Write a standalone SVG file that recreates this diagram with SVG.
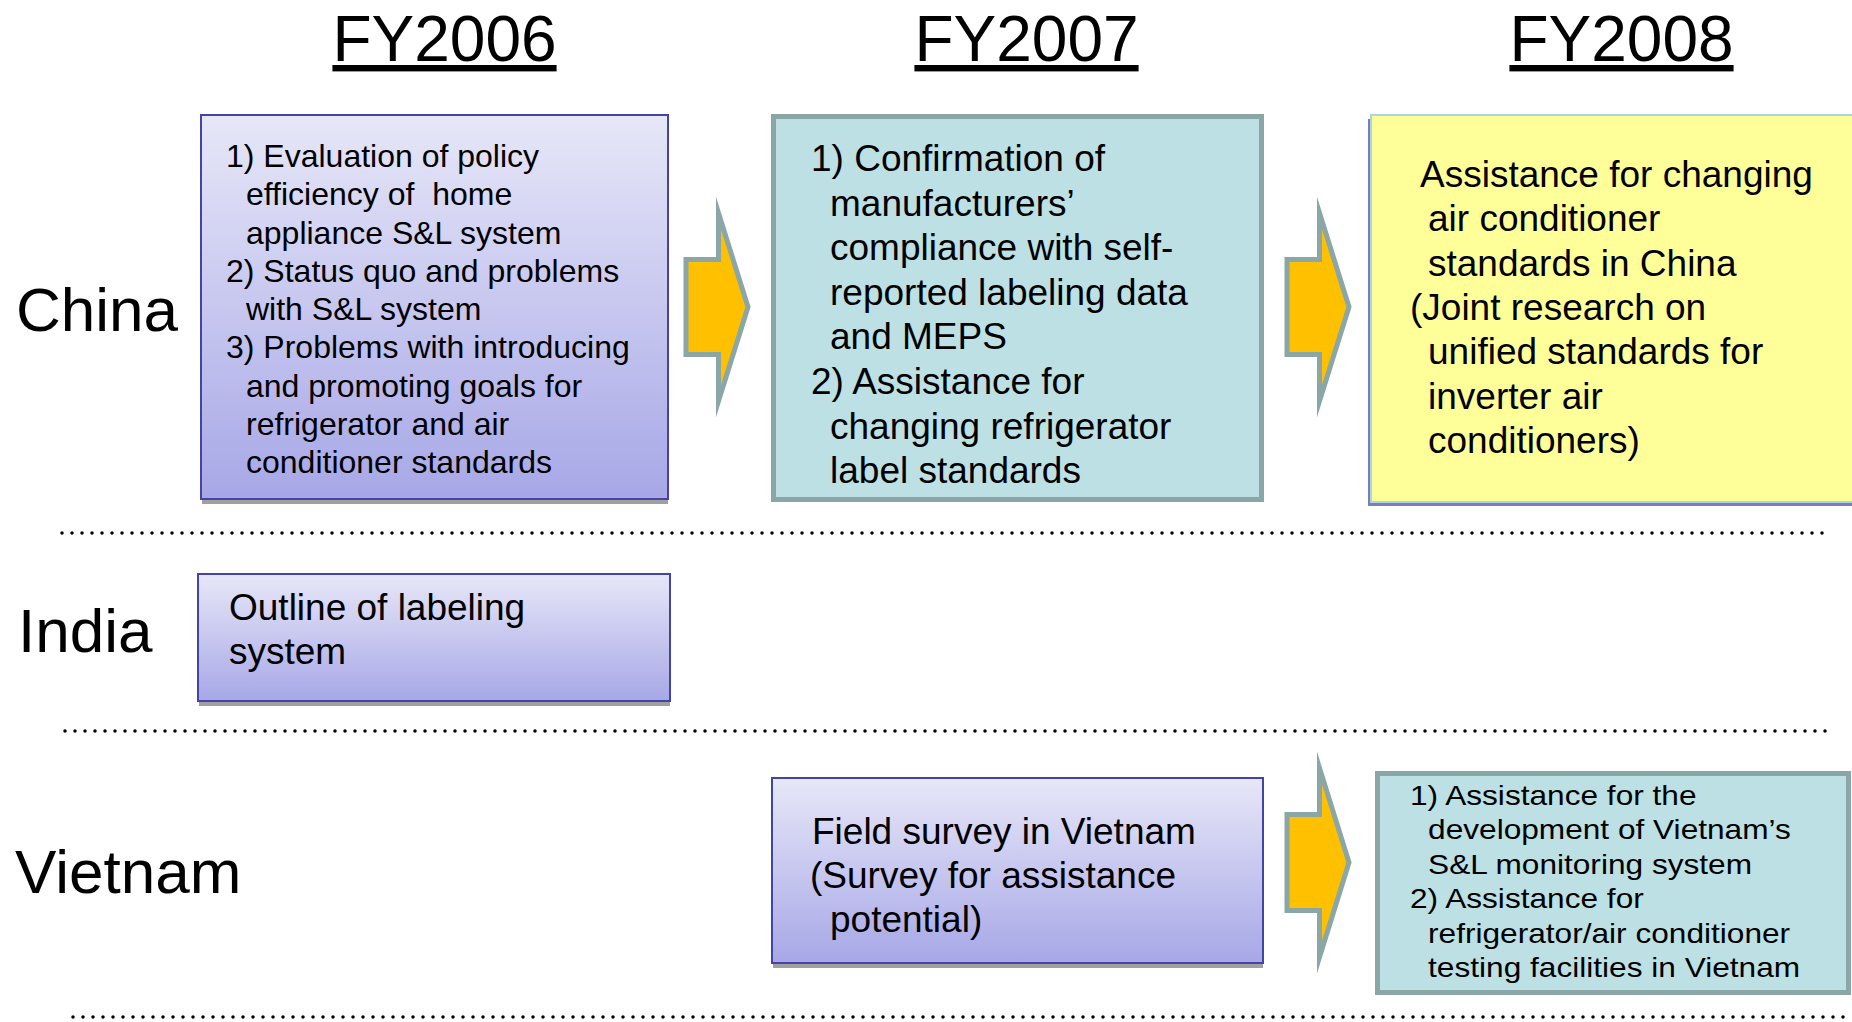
<svg xmlns="http://www.w3.org/2000/svg" width="1852" height="1022" viewBox="0 0 1852 1022">
<style>
  text { font-family: "Liberation Sans", Arial, sans-serif; fill: #000; }
  .title { font-size: 64px; text-anchor: middle; text-decoration: underline; }
  .country { font-size: 62px; }
  .t32 { font-size: 32px; }
  .t37 { font-size: 37px; }
  .t28 { font-size: 28px; }
  .purple { fill: url(#gPurple); stroke: #4444a6; stroke-width: 2; }
  .shadow { fill: #a0a0a0; }
  .teal { fill: #bce0e3; stroke: #8aa6a6; stroke-width: 5; }
  .yellow { fill: #ffff99; stroke: #a9d8dc; stroke-width: 2; }
  .yshadow { fill: #7b7bc4; }
  .arrow { fill: #ffc000; stroke: #8aa6a6; stroke-width: 5; stroke-linejoin: miter; stroke-miterlimit: 12; }
  .dots { stroke: #000; stroke-width: 3.5; stroke-linecap: round; stroke-dasharray: 0 10; fill: none; }
</style>
<defs>
  <linearGradient id="gPurple" x1="0" y1="0" x2="0" y2="1">
    <stop offset="0" stop-color="#e7e7f8"/>
    <stop offset="1" stop-color="#a7a7e7"/>
  </linearGradient>
</defs>
<rect x="0" y="0" width="1852" height="1022" fill="#ffffff"/>

<g id="titles">
  <text class="title" x="444.5" y="61">FY2006</text>
  <text class="title" x="1026.5" y="61">FY2007</text>
  <text class="title" x="1621.5" y="61">FY2008</text>
</g>

<g id="countries">
  <text class="country" x="16" y="331">China</text>
  <text class="country" x="18" y="652">India</text>
  <text class="country" x="15" y="893">Vietnam</text>
</g>

<g id="separators">
  <line class="dots" x1="62" y1="533" x2="1828" y2="533"/>
  <line class="dots" x1="65" y1="731" x2="1831" y2="731"/>
  <line class="dots" x1="73" y1="1017" x2="1852" y2="1017"/>
</g>

<g id="china2006">
  <rect class="shadow" x="202" y="499" width="466" height="5"/>
  <rect class="purple" x="201" y="115" width="467" height="384"/>
  <text class="t32" x="226" y="167">1) Evaluation of policy</text>
  <text class="t32" x="246" y="205.25" xml:space="preserve">efficiency of  home</text>
  <text class="t32" x="246" y="243.5">appliance S&amp;L system</text>
  <text class="t32" x="226" y="281.75">2) Status quo and problems</text>
  <text class="t32" x="246" y="320">with S&amp;L system</text>
  <text class="t32" x="226" y="358.25">3) Problems with introducing</text>
  <text class="t32" x="246" y="396.5">and promoting goals for</text>
  <text class="t32" x="246" y="434.75">refrigerator and air</text>
  <text class="t32" x="246" y="473">conditioner standards</text>
</g>

<g id="china2007">
  <rect class="teal" x="773.5" y="116.5" width="488" height="383"/>
  <text class="t37" x="811" y="171">1) Confirmation of</text>
  <text class="t37" x="830" y="215.6">manufacturers’</text>
  <text class="t37" x="830" y="260.2">compliance with self-</text>
  <text class="t37" x="830" y="304.8">reported labeling data</text>
  <text class="t37" x="830" y="349.4">and MEPS</text>
  <text class="t37" x="811" y="394">2) Assistance for</text>
  <text class="t37" x="830" y="438.6">changing refrigerator</text>
  <text class="t37" x="830" y="483.2">label standards</text>
</g>

<g id="china2008">
  <rect class="yshadow" x="1368" y="119" width="500" height="387"/>
  <rect class="yellow" x="1371" y="115" width="500" height="387"/>
  <text class="t37" x="1420" y="187">Assistance for changing</text>
  <text class="t37" x="1428" y="231.3">air conditioner</text>
  <text class="t37" x="1428" y="275.6">standards in China</text>
  <text class="t37" x="1410" y="320">(Joint research on</text>
  <text class="t37" x="1428" y="364.3">unified standards for</text>
  <text class="t37" x="1428" y="408.6">inverter air</text>
  <text class="t37" x="1428" y="453">conditioners)</text>
</g>

<g id="india2006">
  <rect class="shadow" x="199" y="701" width="471" height="5"/>
  <rect class="purple" x="198" y="574" width="472" height="127"/>
  <text class="t37" x="229" y="620">Outline of labeling</text>
  <text class="t37" x="229" y="664">system</text>
</g>

<g id="vietnam2007">
  <rect class="shadow" x="773" y="963" width="490" height="5"/>
  <rect class="purple" x="772" y="778" width="491" height="185"/>
  <text class="t37" x="812" y="844">Field survey in Vietnam</text>
  <text class="t37" x="810" y="888">(Survey for assistance</text>
  <text class="t37" x="830" y="932">potential)</text>
</g>

<g id="vietnam2008">
  <rect class="teal" x="1377.5" y="773.5" width="471" height="219"/>
  <g transform="translate(1410,0) scale(1.13,1)">
    <text class="t28" x="0" y="805">1) Assistance for the</text>
    <text class="t28" x="16" y="839.5">development of Vietnam’s</text>
    <text class="t28" x="16" y="874">S&amp;L monitoring system</text>
    <text class="t28" x="0" y="908.5">2) Assistance for</text>
    <text class="t28" x="16" y="943">refrigerator/air conditioner</text>
    <text class="t28" x="16" y="977.5">testing facilities in Vietnam</text>
  </g>
</g>

<g id="connectors">
  <path class="arrow" d="M686,259.5 L718.5,259.5 L718.5,213 L748,307 L718.5,401 L718.5,354.5 L686,354.5 Z"/>
  <path class="arrow" d="M1287,259.5 L1319.5,259.5 L1319.5,213 L1349,307 L1319.5,401 L1319.5,354.5 L1287,354.5 Z"/>
  <path class="arrow" d="M1287,814.5 L1319.5,814.5 L1319.5,768 L1349,862.5 L1319.5,957 L1319.5,910.5 L1287,910.5 Z"/>
</g>
</svg>
